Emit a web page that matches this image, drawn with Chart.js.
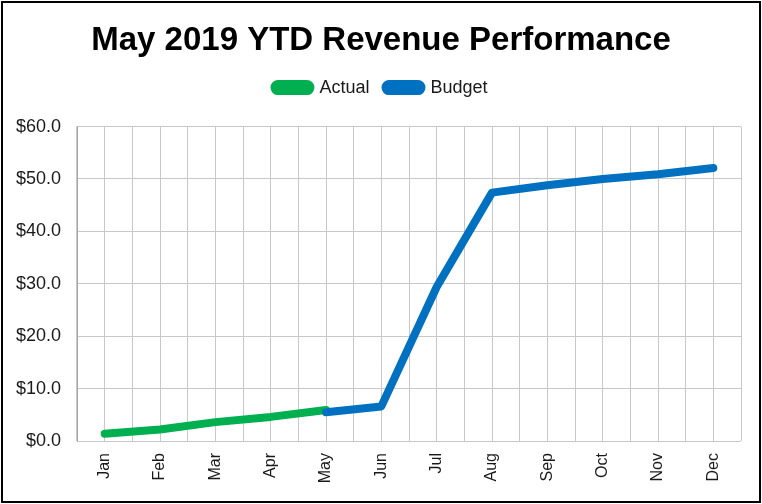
<!DOCTYPE html>
<html>
<head>
<meta charset="utf-8">
<script src="https://cdn.jsdelivr.net/npm/chart.js@4/dist/chart.umd.min.js"></script>
<style>
  html, body { margin: 0; padding: 0; background: #fff; }
  #wrap { width: 762px; height: 504px; position: relative; }
</style>
</head>
<body>
<div id="wrap"><canvas id="myChart"></canvas></div>
<script>
const months = ["Jan", "Feb", "Mar", "Apr", "May", "Jun", "Jul", "Aug", "Sep", "Oct", "Nov", "Dec"];
const actual = [1.4, 2.2, 3.6, 4.6, 5.9, null, null, null, null, null, null, null];
const budget = [null, null, null, null, 5.5, 6.6, 29.4, 47.4, 48.8, 50.0, 50.9, 52.1];
const yTicks = [0, 10, 20, 30, 40, 50, 60];

const FONT = "'Liberation Sans', Arial, sans-serif";
const TEXT = "#1a1a1a";

// black frame round the whole picture
const frame = {
    id: "frame",
    afterDraw(chart) {
        const c = chart.ctx;
        c.save();
        c.strokeStyle = "#000";
        c.lineWidth = 2;
        c.strokeRect(2, 2, chart.width - 4, chart.height - 4);
        c.restore();
    }
};

// extra room under the legend
const legendGap = {
    id: "legendGap",
    beforeInit(chart) {
        const fit = chart.legend.fit;
        chart.legend.fit = function () {
            fit.bind(chart.legend)();
            this.height += 20;
        };
    }
};

const ctx = document.getElementById("myChart").getContext("2d");
const myChart = new Chart(ctx, {
    type: "line",
    data: {
        labels: months,
        datasets: [
            {
                label: "Actual",
                data: actual,
                borderColor: "#00b050",
                backgroundColor: "#00b050",
                borderWidth: 8,
                borderCapStyle: "round",
                borderJoinStyle: "round",
                pointRadius: 0,
                order: 1
            },
            {
                label: "Budget",
                data: budget,
                borderColor: "#0070c0",
                backgroundColor: "#0070c0",
                borderWidth: 8,
                borderCapStyle: "round",
                borderJoinStyle: "round",
                pointRadius: 0,
                order: 0
            }
        ]
    },
    options: {
        responsive: true,
        maintainAspectRatio: false,
        animation: false,
        layout: { padding: { left: 0, right: 0, top: 0, bottom: 5 } },
        plugins: {
            title: {
                display: true,
                text: "May 2019 YTD Revenue Performance",
                color: "#000",
                font: { family: FONT, size: 33, weight: "bold" },
                padding: { top: 21, bottom: 2 }
            },
            legend: {
                position: "top",
                labels: {
                    color: TEXT,
                    font: { family: FONT, size: 18 },
                    boxWidth: 36,
                    boxHeight: 7,
                    useBorderRadius: true,
                    borderRadius: 3.5,
                    padding: 16,
                    sort: (a, b) => a.datasetIndex - b.datasetIndex
                }
            },
            tooltip: { enabled: false }
        },
        scales: {
            x: {
                type: "category",
                offset: true,
                grid: { offset: false, color: "#c8c8c8", lineWidth: 1, drawTicks: false },
                border: { display: false },
                ticks: {
                    color: TEXT,
                    font: { family: FONT, size: 16 },
                    minRotation: 90,
                    maxRotation: 90,
                    padding: 12,
                    autoSkip: false
                },
                afterFit: s => { s.height = 58; }
            },
            x2: {
                type: "category",
                labels: months,
                position: "bottom",
                offset: true,
                grid: { offset: true, color: "#c8c8c8", lineWidth: 1, drawTicks: false },
                border: { display: false },
                ticks: { display: false },
                afterFit: s => { s.height = 0; }
            },
            y: {
                min: 0,
                max: 60,
                afterBuildTicks: s => { s.ticks = yTicks.map(v => ({ value: v })); },
                grid: { color: "#c8c8c8", lineWidth: 1, drawTicks: false },
                border: { color: "#a6a6a6" },
                ticks: {
                    color: TEXT,
                    font: { family: FONT, size: 18 },
                    padding: 16,
                    callback: v => "$" + Number(v).toFixed(1)
                },
                afterFit: s => { s.width = 77; }
            },
            // empty margin on the right so the plot ends where the reference does
            yRight: {
                type: "linear",
                position: "right",
                grid: { display: false },
                border: { display: false },
                ticks: { display: false },
                afterFit: s => { s.width = 21; }
            }
        }
    },
    plugins: [frame, legendGap]
});
</script>
</body>
</html>
